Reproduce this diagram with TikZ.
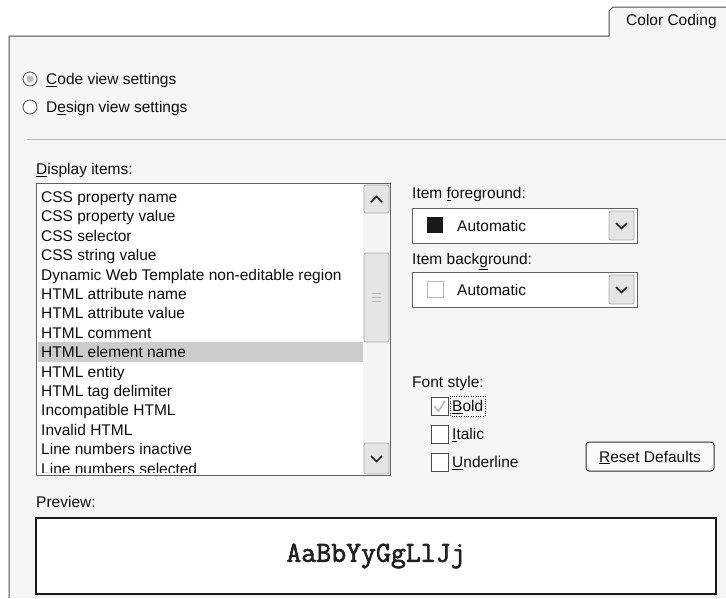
\documentclass[tikz,border=0pt]{standalone}
\usepackage{fontspec}
\setmainfont{Liberation Sans}
\newfontfamily\prevfont[AutoFakeBold=2.2]{Latin Modern Mono}
\tikzset{
  lbl/.style={anchor=base west, yshift=-5.5pt, inner sep=0pt, text=gray!10!black, font=\fontsize{15.5}{18}\selectfont},
  box/.style={draw=gray!75!black, fill=white, line width=1pt},
  btn/.style={draw=gray!65, fill=gray!20, rounded corners=2pt, line width=0.8pt},
  chk/.style={draw=gray!60!black, fill=white, line width=0.8pt},
  chev/.style={draw=gray!30!black, line width=1.6pt},
}
\begin{document}
\begin{tikzpicture}[x=1pt,y=-1pt]
\useasboundingbox (0,0) rectangle (726,598);
\fill[white] (0,0) rectangle (726,598);

% panel with its tab
\fill[gray!7] (9,36) -- (609,36) -- (609,11) -- (613,7) -- (726,7) -- (726,598) -- (9,598) -- cycle;
\draw[gray!60!black, line width=1pt] (9,598) -- (9,36) -- (609,36) -- (609,11) -- (613,7) -- (726,7);
\node[lbl] (tab) at (626,20) {Color Coding};

% view settings
\draw[gray!60!black, fill=white, line width=0.8pt] (30,79) circle (7);
\fill[gray!50] (30,79) circle (3.5);
\node[lbl] (code) at (46,79) {\underline{C}ode view settings};
\draw[gray!60!black, fill=white, line width=0.8pt] (30,107) circle (7);
\node[lbl] (design) at (46,107) {D\underline{e}sign view settings};

\draw[gray!55, line width=1pt] (27,139) -- (726,139);

% display items
\node[lbl] (disp) at (36,169) {\underline{D}isplay items:};
\draw[box] (36,183) rectangle (390,475);
\fill[gray!40] (38,342) rectangle (363,362);
\begin{scope}
\clip (37,184) rectangle (363,472);
\node[lbl] (it0) at (41,197) {CSS property name};
\node[lbl] (it1) at (41,216.4) {CSS property value};
\node[lbl] (it2) at (41,235.8) {CSS selector};
\node[lbl] (it3) at (41,255.2) {CSS string value};
\node[lbl] (it4) at (41,274.6) {Dynamic Web Template non-editable region};
\node[lbl] (it5) at (41,294) {HTML attribute name};
\node[lbl] (it6) at (41,313.4) {HTML attribute value};
\node[lbl] (it7) at (41,332.8) {HTML comment};
\node[lbl] (it8) at (41,352.2) {HTML element name};
\node[lbl] (it9) at (41,371.6) {HTML entity};
\node[lbl] (it10) at (41,391) {HTML tag delimiter};
\node[lbl] (it11) at (41,410.4) {Incompatible HTML};
\node[lbl] (it12) at (41,429.8) {Invalid HTML};
\node[lbl] (it13) at (41,449.2) {Line numbers inactive};
\node[lbl] (it14) at (41,468.6) {Line numbers selected};
\end{scope}

% scroll bar
\fill[gray!8] (363,184) rectangle (389,474);
\draw[btn] (364,185) rectangle (389,213);
\draw[chev] (371,202) -- (376.5,196.5) -- (382,202);
\draw[btn] (364,253) rectangle (389,342);
\draw[gray!55] (372,293) -- (381,293);
\draw[gray!55] (372,297) -- (381,297);
\draw[gray!55] (372,301) -- (381,301);
\draw[btn] (364,443) rectangle (389,474);
\draw[chev] (371,456) -- (376.5,461.5) -- (382,456);

% item colours
\node[lbl] (fglbl) at (412,193) {Item \underline{f}oreground:};
\draw[box] (412,208) rectangle (637,243);
\fill[gray!20!black] (427,217) rectangle (443,233);
\node[lbl] (fgval) at (457,226) {Automatic};
\draw[btn] (609,211) rectangle (634,240);
\draw[chev] (616,223) -- (621.5,228.5) -- (627,223);

\node[lbl] (bglbl) at (412,259) {Item back\underline{g}round:};
\draw[box] (412,272) rectangle (637,307);
\draw[gray!55, fill=white] (427,281) rectangle (443,297);
\node[lbl] (bgval) at (457,290) {Automatic};
\draw[btn] (609,275) rectangle (634,304);
\draw[chev] (616,287) -- (621.5,292.5) -- (627,287);

% font style
\node[lbl] (fslbl) at (412,382) {Font style:};
\draw[chk] (431,397) rectangle (448,415);
\draw[gray!55, line width=1.6pt] (434,406) -- (438.5,411) -- (445,401);
\node[lbl] (bold) at (452,406) {\underline{B}old};
\draw[dotted, gray!30!black] (450,396) rectangle (485,416);
\draw[chk] (431,425) rectangle (448,443);
\node[lbl] (italic) at (452,434) {\underline{I}talic};
\draw[chk] (431,453) rectangle (448,471);
\node[lbl] (uline) at (452,462) {\underline{U}nderline};

\draw[gray!35!black, fill=gray!5, rounded corners=3pt, line width=1pt] (586,442) rectangle (714,471);
\node[lbl, anchor=base] (reset) at (650,456.5) {\underline{R}eset Defaults};

% preview
\node[lbl] (prevlbl) at (36,502) {Preview:};
\draw[gray!20!black, fill=white, line width=1.5pt] (36,518) rectangle (716,594);
\node[font=\prevfont\bfseries\fontsize{29}{32}\selectfont, text=gray!25!black] (sample) at (376,556) {AaBbYyGgLlJj};
\end{tikzpicture}
\end{document}
